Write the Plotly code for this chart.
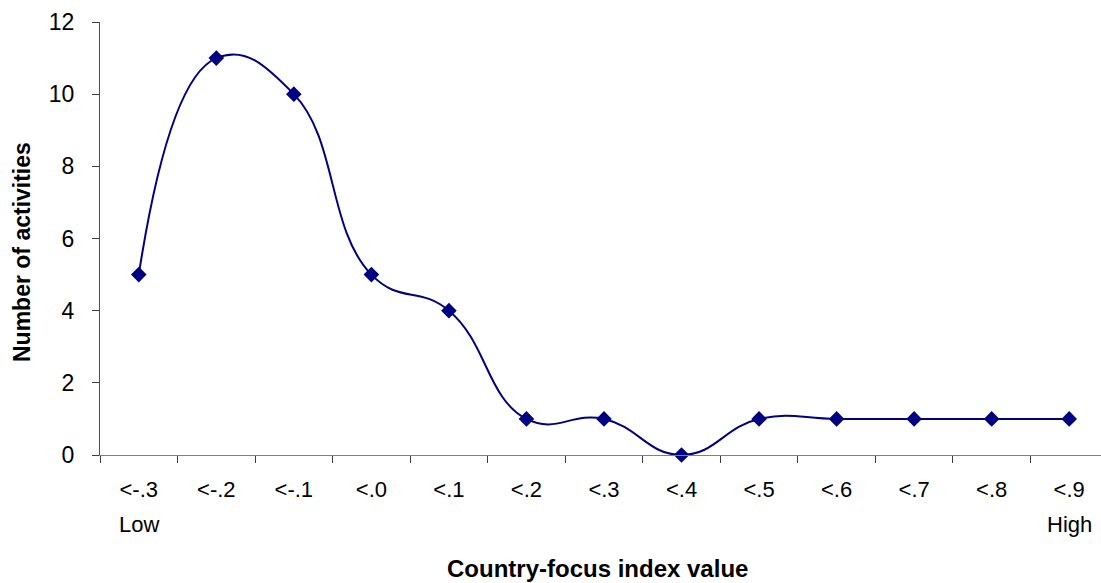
import plotly.graph_objects as go

# Country-focus index bins and activity counts
categories = ["<-.3", "<-.2", "<-.1", "<.0", "<.1", "<.2", "<.3",
              "<.4", "<.5", "<.6", "<.7", "<.8", "<.9"]
activities = [5, 11, 10, 5, 4, 1, 1, 0, 1, 1, 1, 1, 1]
y_ticks = [0, 2, 4, 6, 8, 10, 12]

NAVY = "#000080"
FONT = "Liberation Sans, Arial, sans-serif"

W, H = 1101, 583
L, R, T, B = 100, 0, 22, 128
plot_w = W - L - R
plot_h = H - T - B


def px_x(px):
    """Horizontal pixel position -> paper fraction."""
    return (px - L) / plot_w


def px_y(px):
    """Vertical pixel position (from top) -> paper fraction."""
    return (H - B - px) / plot_h


fig = go.Figure(
    go.Scatter(
        x=categories,
        y=activities,
        mode="lines+markers",
        line=dict(color=NAVY, width=2, shape="spline", smoothing=1.3),
        marker=dict(symbol="diamond", size=12, color=NAVY),
        cliponaxis=False,
    )
)

fig.update_layout(
    width=W,
    height=H,
    margin=dict(l=L, r=R, t=T, b=B),
    paper_bgcolor="white",
    plot_bgcolor="white",
    showlegend=False,
    font=dict(family=FONT, color="black", size=22),
    xaxis=dict(
        type="category",
        range=[-0.5, 12.41],
        tickson="boundaries",
        ticks="outside",
        ticklen=7,
        tickcolor="#404040",
        showline=True,
        linecolor="#808080",
        linewidth=1,
        showgrid=False,
        zeroline=False,
        ticklabelstandoff=15,
        tickfont=dict(size=22),
    ),
    yaxis=dict(
        range=[0, 12],
        tickvals=y_ticks,
        ticks="outside",
        ticklen=7,
        tickcolor="#404040",
        showline=True,
        linecolor="#505050",
        linewidth=1,
        showgrid=False,
        zeroline=False,
        ticklabelstandoff=13,
        tickfont=dict(size=23),
    ),
    annotations=[
        dict(text="Low", x=0, xref="x", y=px_y(524), yref="paper",
             xanchor="center", yanchor="middle", showarrow=False,
             font=dict(size=22)),
        dict(text="High", x=12, xref="x", y=px_y(524), yref="paper",
             xanchor="center", yanchor="middle", showarrow=False,
             font=dict(size=22)),
        dict(text="<b>Country-focus index value</b>", x=px_x(597), xref="paper",
             y=px_y(584), yref="paper", xanchor="center", yanchor="bottom",
             showarrow=False, font=dict(size=24)),
        dict(text="<b>Number of activities</b>", x=px_x(22), xref="paper",
             y=px_y(252), yref="paper", xanchor="center", yanchor="middle",
             textangle=-90, showarrow=False, font=dict(size=23)),
    ],
)

fig.write_html("out.html")
